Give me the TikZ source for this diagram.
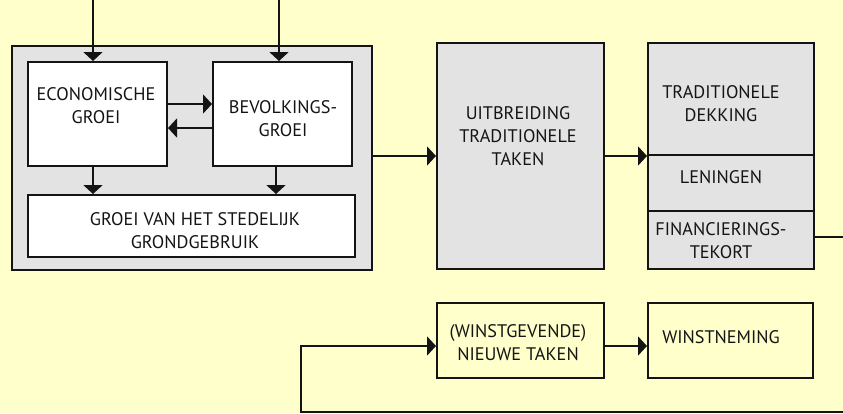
\documentclass[tikz,border=0pt]{standalone}
\usepackage{fontspec}
\setmainfont{PT Sans}
\usetikzlibrary{arrows.meta}
\definecolor{bg}{HTML}{FFFFCC}
\definecolor{grayfill}{HTML}{E3E3E3}
\definecolor{ink}{HTML}{141414}
\tikzset{
  box/.style={draw=ink, line width=2pt, inner sep=0pt, anchor=center},
  whitebox/.style={box, fill=white},
  graybox/.style={box, fill=grayfill},
  yelbox/.style={box, fill=bg},
  txt/.style={inner sep=0pt, align=center, anchor=base, text=ink,
    font=\fontsize{18.2}{23}\selectfont},
  arr/.style={draw=ink, line width=2pt, -{Triangle[length=9pt,width=19pt]}},
  ln/.style={draw=ink, line width=2pt},
}
\begin{document}
\begin{tikzpicture}[x=1pt,y=-1pt]
\fill[bg] (0,0) rectangle (843,413);
\useasboundingbox (0,0) rectangle (843,413);
% boxes
\node[graybox, minimum width=360pt, minimum height=224pt] (outer) at (192,158) {};
\node[whitebox, minimum width=139pt, minimum height=104pt] (econ) at (97.5,114) {};
\node[whitebox, minimum width=139pt, minimum height=104pt] (bev) at (282.5,114) {};
\node[whitebox, minimum width=327pt, minimum height=62pt] (groei) at (191.5,226) {};
\node[graybox, minimum width=167pt, minimum height=226pt] (uitb) at (520.5,156) {};
\node[graybox, minimum width=166pt, minimum height=226pt] (fin) at (731,156) {};
\node[yelbox, minimum width=167pt, minimum height=75pt] (winst) at (520.5,340.5) {};
\node[yelbox, minimum width=165pt, minimum height=75pt] (wnem) at (730.5,340.5) {};
% dividers in the financing box
\coordinate (d1) at (0,155);
\coordinate (d2) at (0,211);
\draw[ln] (fin.west |- d1) -- (fin.east |- d1);
\draw[ln] (fin.west |- d2) -- (fin.east |- d2);
% texts (anchor = baseline of last line)
\node[txt] (econ-t) at (96,123) {ECONOMISCHE\\GROEI};
\node[txt] (bev-t) at (283,136) {BEVOLKINGS-\\GROEI};
\node[txt] (groei-t) at (195,248) {GROEI VAN HET STEDELIJK\\GRONDGEBRUIK};
\node[txt] (uitb-t) at (518,165) {UITBREIDING\\TRADITIONELE\\TAKEN};
\node[txt] (trad-t) at (721,121) {TRADITIONELE\\DEKKING};
\node[txt] (len-t) at (721,183) {LENINGEN};
\node[txt] (fin-t) at (721,258) {FINANCIERINGS-\\TEKORT};
\node[txt] (winst-t) at (518,360) {(WINSTGEVENDE)\\NIEUWE TAKEN};
\node[txt] (wnem-t) at (721,343) {WINSTNEMING};
% connectors
\coordinate (in1) at (93,0);
\coordinate (in2) at (279,0);
\draw[arr] (in1) -- (in1 |- econ.north);
\draw[arr] (in2) -- (in2 |- bev.north);
\draw[arr] ([yshift=10pt]econ.east) -- ([yshift=10pt]bev.west);
\draw[arr] ([yshift=-14pt]bev.west) -- ([yshift=-14pt]econ.east);
\draw[arr] ([xshift=-4.5pt]econ.south) -- ([xshift=-4.5pt]econ.south |- groei.north);
\draw[arr] ([xshift=-6.5pt]bev.south) -- ([xshift=-6.5pt]bev.south |- groei.north);
\draw[arr] (uitb.west -| outer.east) -- (uitb.west);
\draw[arr] (uitb.east) -- (fin.west);
\coordinate (fout) at (843,237);
\draw[ln] (fin.east |- fout) -- (fout);
\coordinate (loopR) at (843,411.5);
\coordinate (loopL) at (301,411.5);
\draw[arr] (loopR) -- (loopL) |- ([yshift=-5.5pt]winst.west);
\draw[arr] ([yshift=-5.5pt]winst.east) -- ([yshift=-5.5pt]wnem.west);
\end{tikzpicture}
\end{document}
